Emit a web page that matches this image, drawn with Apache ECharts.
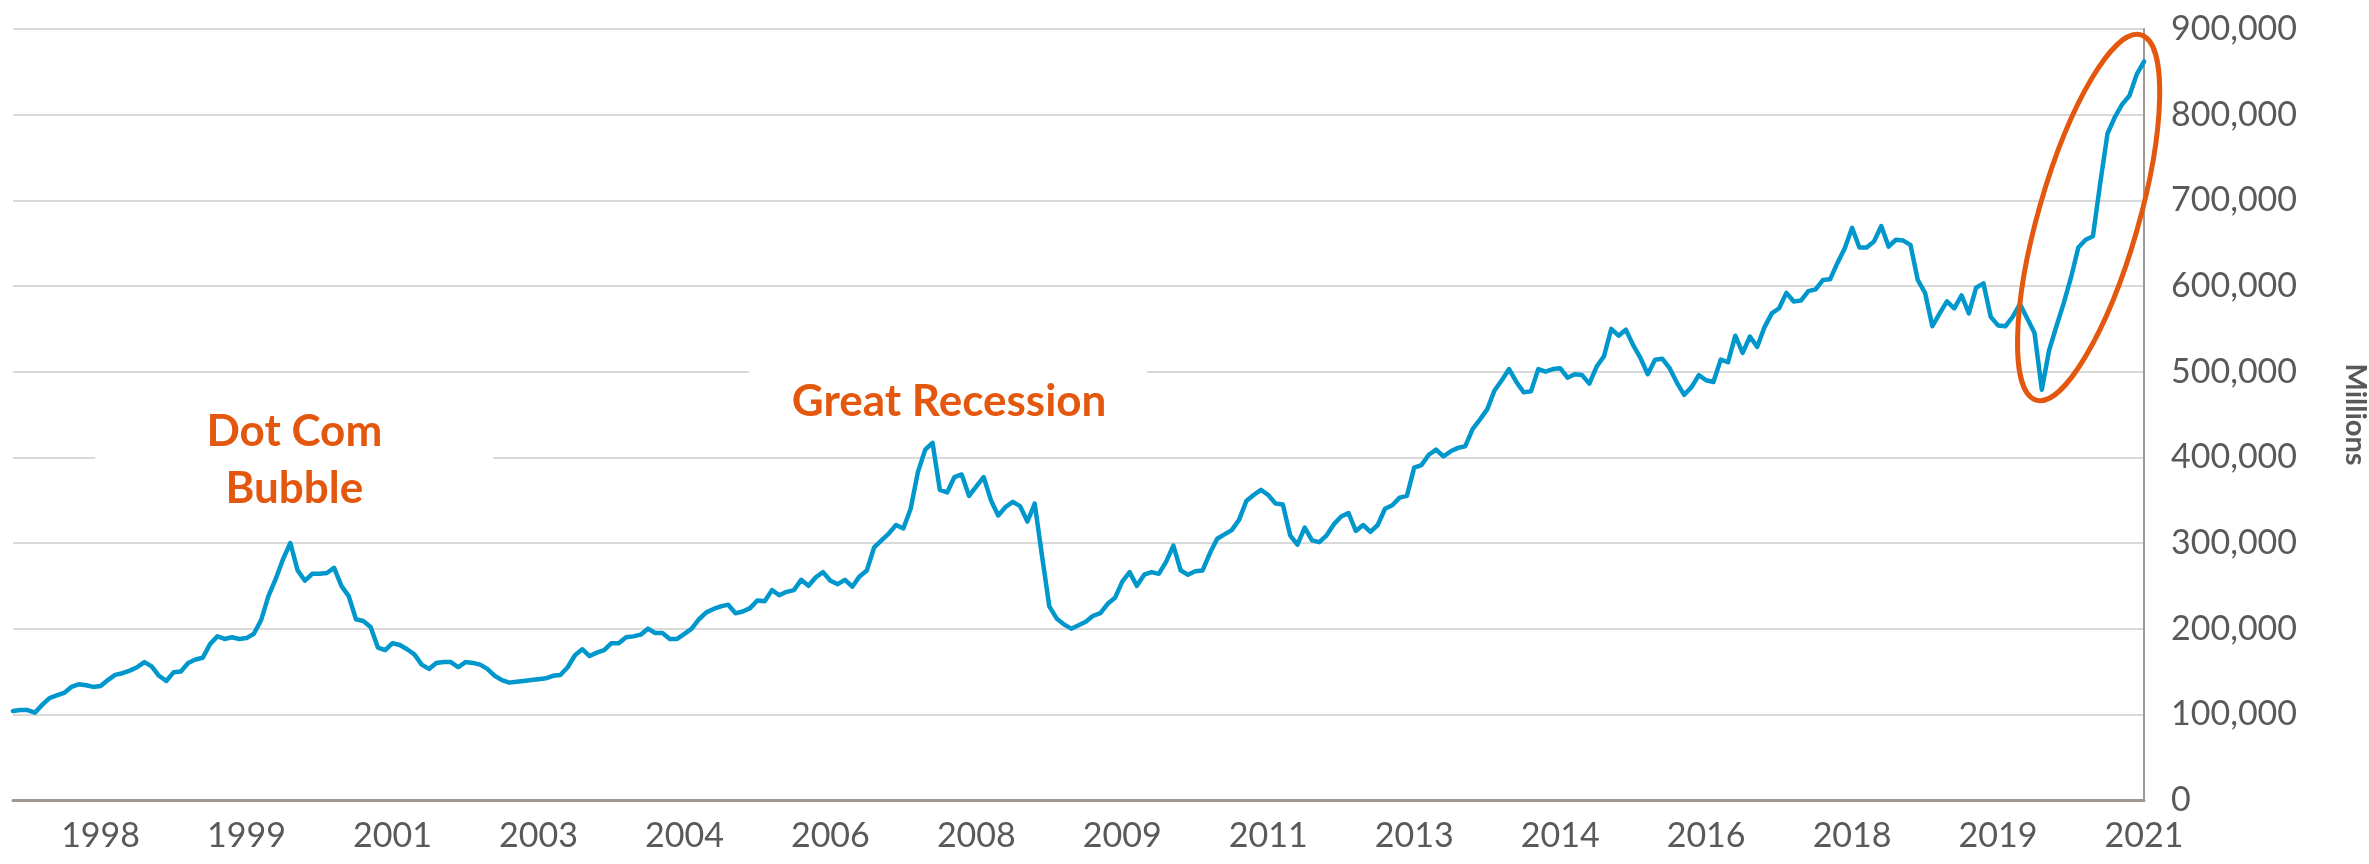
<!DOCTYPE html>
<html>
<head>
<meta charset="utf-8">
<script src="https://cdn.jsdelivr.net/npm/echarts@6/dist/echarts.min.js"></script>
<style>
  html, body { margin: 0; padding: 0; background: #fff; }
  #chart { width: 2369px; height: 864px; }
</style>
</head>
<body>
<div id="chart"></div>
<script>
    // monthly margin debit balances, millions, Jan 1997 .. May 2021
    var startYear = 1997;
    var values = [
        104000, 105000, 105000, 102000, 111000, 119000, 122000, 125000, 132000, 135000, 134000, 132000, // 1997
        133000, 140000, 146000, 148000, 151000, 155000, 161000, 156000, 145000, 139000, 149000, 150000, // 1998
        160000, 164000, 166000, 182000, 191000, 188000, 190000, 188000, 189000, 194000, 210000, 238000, // 1999
        258000, 281000, 300000, 268000, 256000, 264000, 264000, 265000, 271000, 250000, 238000, 211000, // 2000
        209000, 202000, 178000, 175000, 183000, 181000, 176000, 170000, 158000, 153000, 160000, 161000, // 2001
        161000, 155000, 161000, 160000, 158000, 153000, 145000, 140000, 137000, 138000, 139000, 140000, // 2002
        141000, 142000, 145000, 146000, 155000, 169000, 176000, 168000, 172000, 175000, 183000, 183000, // 2003
        190000, 191000, 193000, 200000, 195000, 195000, 188000, 188000, 194000, 200000, 211000, 219000, // 2004
        223000, 226000, 228000, 218000, 220000, 224000, 233000, 232000, 245000, 239000, 243000, 245000, // 2005
        257000, 250000, 260000, 266000, 256000, 252000, 257000, 249000, 261000, 268000, 295000, 303000, // 2006
        311000, 321000, 317000, 340000, 383000, 409000, 417000, 362000, 359000, 377000, 380000, 355000, // 2007
        366000, 377000, 350000, 332000, 342000, 348000, 343000, 325000, 346000, 285000, 226000, 212000, // 2008
        205000, 200000, 204000, 208000, 215000, 218000, 229000, 236000, 255000, 266000, 250000, 263000, // 2009
        266000, 264000, 278000, 297000, 268000, 263000, 267000, 268000, 288000, 305000, 310000, 315000, // 2010
        327000, 349000, 356000, 362000, 356000, 346000, 345000, 309000, 298000, 318000, 303000, 301000, // 2011
        309000, 322000, 331000, 335000, 314000, 321000, 313000, 321000, 340000, 344000, 353000, 355000, // 2012
        388000, 391000, 403000, 409000, 401000, 407000, 411000, 413000, 433000, 444000, 456000, 478000, // 2013
        490000, 503000, 488000, 476000, 477000, 503000, 500000, 503000, 504000, 493000, 497000, 496000, // 2014
        486000, 506000, 518000, 550000, 542000, 549000, 531000, 516000, 497000, 514000, 515000, 504000, // 2015
        487000, 473000, 482000, 496000, 490000, 488000, 514000, 511000, 542000, 522000, 541000, 529000, // 2016
        552000, 568000, 574000, 592000, 582000, 583000, 594000, 596000, 607000, 608000, 627000, 644000, // 2017
        668000, 645000, 645000, 652000, 670000, 646000, 654000, 653000, 648000, 607000, 592000, 553000, // 2018
        568000, 582000, 574000, 589000, 568000, 598000, 603000, 564000, 554000, 553000, 564000, 579000, // 2019
        562000, 545000, 479000, 525000, 553000, 580000, 610000, 645000, 654000, 658000, 720000, 778000, // 2020
        797000, 812000, 822000, 847000, 862000                                                           // 2021
    ];

    // x labels: one every 20 months, the first one on Jan 1998
    var tickLabels = ['1998', '1999', '2001', '2003', '2004', '2006', '2008', '2009',
                      '2011', '2013', '2014', '2016', '2018', '2019', '2021'];
    var tickFirst = 12, tickStep = 20;

    var categories = [];
    for (var i = 0; i < values.length; i++) {
        var y = startYear + Math.floor(i / 12), m = i % 12 + 1;
        categories.push(y + '-' + (m < 10 ? '0' + m : m));
    }

    var orange = '#E3580E';
    var grey = '#595959';
    var axisColor = '#A09891';
    var font = 'Lato';

    var chart = echarts.init(document.getElementById('chart'));
    chart.setOption({
        animation: false,
        backgroundColor: '#fff',
        grid: { left: 13, right: 225, top: 29, bottom: 64, containLabel: false, outerBoundsMode: 'none' },
        xAxis: {
            type: 'category',
            data: categories,
            boundaryGap: false,
            axisLine: { lineStyle: { color: axisColor, width: 3 } },
            axisTick: { show: false },
            splitLine: { show: false },
            axisLabel: {
                interval: function (idx) { return idx >= tickFirst && (idx - tickFirst) % tickStep === 0; },
                formatter: function (val, idx) { return tickLabels[(idx - tickFirst) / tickStep] || ''; },
                color: grey,
                fontFamily: font,
                fontSize: 34,
                margin: 19
            }
        },
        yAxis: {
            type: 'value',
            position: 'right',
            min: 0,
            max: 900000,
            interval: 100000,
            name: 'Millions',
            nameLocation: 'middle',
            nameRotate: -90,
            nameGap: 197,
            nameTextStyle: { color: grey, fontFamily: font, fontWeight: 'bold', fontSize: 29 },
            axisLine: { show: true, lineStyle: { color: axisColor, width: 2 } },
            axisTick: { show: false },
            splitLine: { lineStyle: { color: '#D9D9D9', width: 2 } },
            axisLabel: {
                formatter: function (v) { return v.toLocaleString('en-US'); },
                color: grey,
                fontFamily: font,
                fontSize: 34,
                margin: 27
            }
        },
        series: [{
            type: 'line',
            data: values,
            symbol: 'none',
            z: 3,
            lineStyle: { color: '#0097CC', width: 4.5, join: 'round', cap: 'round' }
        }]
    });

    // annotations, anchored to data positions
    var dotCom = chart.convertToPixel({ seriesIndex: 0 }, [38, 396000]);
    var recession = chart.convertToPixel({ seriesIndex: 0 }, [128, 465000]);
    var rally = chart.convertToPixel({ seriesIndex: 0 }, [284, 680000]);

    chart.setOption({
        graphic: [
            {
                type: 'rect', z: 1, silent: true,
                shape: { x: dotCom[0] - 195, y: dotCom[1] - 75, width: 398, height: 148 },
                style: { fill: '#fff' }
            },
            {
                type: 'text', z: 4, silent: true,
                x: dotCom[0] + 4, y: dotCom[1],
                style: {
                    text: 'Dot Com\nBubble', fill: orange,
                    font: 'bold 44px Lato', lineHeight: 57,
                    align: 'center', verticalAlign: 'middle',
                    textAlign: 'center', textVerticalAlign: 'middle'
                }
            },
            {
                type: 'rect', z: 1, silent: true,
                shape: { x: recession[0] - 198, y: recession[1] - 57, width: 398, height: 105 },
                style: { fill: '#fff' }
            },
            {
                type: 'text', z: 4, silent: true,
                x: recession[0] + 2, y: recession[1],
                style: {
                    text: 'Great Recession', fill: orange,
                    font: 'bold 44px Lato',
                    align: 'center', verticalAlign: 'middle',
                    textAlign: 'center', textVerticalAlign: 'middle'
                }
            },
            {
                type: 'ellipse', z: 5, silent: true,
                x: rally[0] + 3, y: rally[1],
                rotation: -16 * Math.PI / 180,
                shape: { cx: 0, cy: 0, rx: 50, ry: 190 },
                style: { fill: 'none', stroke: orange, lineWidth: 5 }
            }
        ]
    });
</script>
</body>
</html>
